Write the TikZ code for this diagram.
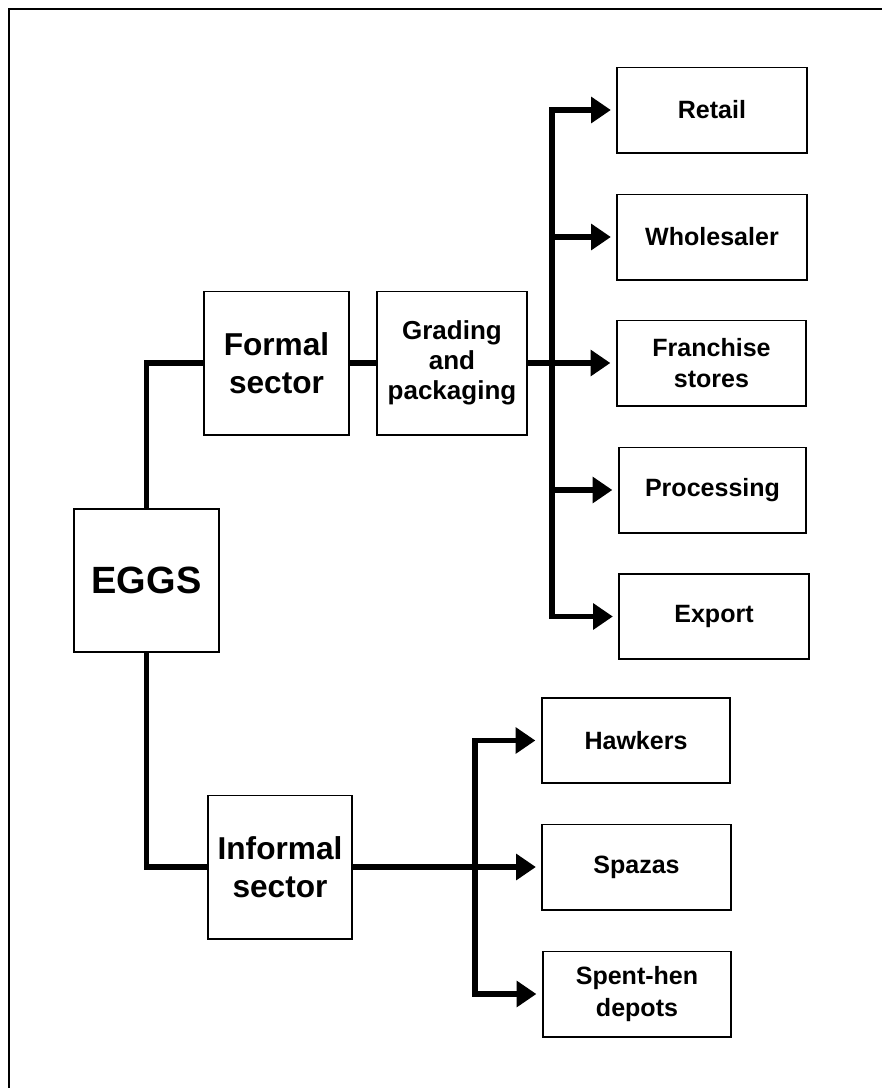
\documentclass[tikz,border=0pt]{standalone}
\usepackage{fontspec}
\setmainfont{Liberation Sans}
\usetikzlibrary{arrows.meta}

\begin{document}
\begin{tikzpicture}[
   x = 0.025cm, y = -0.025cm,
   box/.style = {draw, line width=1.4pt, inner sep=0pt, align=center,
                 minimum width=4.725cm, minimum height=2.125cm,
                 font=\bfseries\fontsize{17.8}{22.3}\selectfont},
   sectorbox/.style = {box, minimum width=3.6cm, minimum height=3.575cm,
                 font=\bfseries\fontsize{22.5}{27}\selectfont},
   link/.style = {line width=3.6pt},
   flow/.style = {link, -{Triangle[length=14pt, width=18pt]}, shorten >=4pt}]
   \useasboundingbox (0,0) rectangle (882,1088);
   \draw[line width=1.5pt] (9,1100) |- (900,9);

   \node[sectorbox, font=\bfseries\fontsize{27}{32}\selectfont]  (eggs) at (146.5,580.5) {EGGS};
   \node[sectorbox]  (formal) at (276.5,363) {Formal\\sector};
   \node[sectorbox, minimum width=3.75cm, font=\bfseries\fontsize{18.5}{21.5}\selectfont]  (grading) at (452,363) {Grading\\and\\packaging};
   \node[sectorbox]  (informal) at (280,867) {Informal\\sector};

   \node[box]  (retail) at (712,110) {Retail};
   \node[box]  (wholesaler) at (712,237) {Wholesaler};
   \node[box]  (franchise) at (711.5,363) {Franchise\\stores};
   \node[box, minimum width=4.675cm]  (processing) at (712.5,490) {Processing};
   \node[box]  (export) at (714,616.5) {Export};

   \node[box, minimum width=4.7cm]  (hawkers) at (636,740.5) {Hawkers};
   \node[box, minimum width=4.7cm]  (spazas) at (636.5,867) {Spazas};
   \node[box, minimum width=4.7cm]  (spenthen) at (637,994) {Spent-hen\\depots};

   \coordinate (upsplit) at (552,363);
   \coordinate (lowsplit) at (475,867);

   \draw[link] (eggs.north) |- (formal.west);
   \draw[link] (eggs.south) |- (informal.west);
   \draw[link] (formal) -- (grading);

   \draw[flow] (grading.east) -- (upsplit) |- (retail.west);
   \draw[flow] (upsplit) |- (wholesaler.west);
   \draw[flow] (upsplit) -- (franchise.west);
   \draw[flow] (upsplit) |- (processing.west);
   \draw[flow] (upsplit) |- (export.west);

   \draw[flow] (informal.east) -- (lowsplit) |- (hawkers.west);
   \draw[flow] (lowsplit) -- (spazas.west);
   \draw[flow] (lowsplit) |- (spenthen.west);
\end{tikzpicture}
\end{document}
